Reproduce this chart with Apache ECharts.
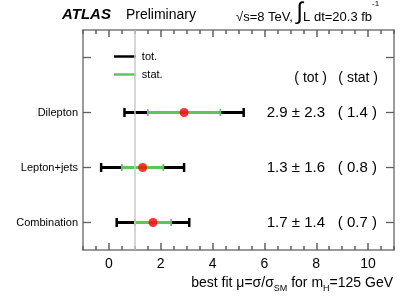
<!DOCTYPE html>
<html><head><meta charset="utf-8">
<script src="https://cdn.jsdelivr.net/npm/echarts@6/dist/echarts.min.js"></script>
<style>html,body{margin:0;padding:0;background:#fff}#c{width:415px;height:298px}</style>
</head><body><div id="c"></div>
<script>
var categories = ['Combination', 'Lepton+jets', 'Dilepton', ''];
var central = [1.7, 1.3, 2.9];
var totErr = [1.4, 1.6, 2.3];
var statErr = [0.7, 0.8, 1.4];
var xTicks = [0, 2, 4, 6, 8, 10];
var smLine = 1;

var FONT = '"Liberation Sans", Arial, Helvetica, sans-serif';
var chart = echarts.init(document.getElementById('c'), null, {renderer: 'canvas'});

function fmt(v){ return v.toFixed(1); }
var rightLabels = categories.map(function(c, i){
  if (i >= central.length) return '';
  return '{a|' + fmt(central[i]) + ' \u00b1 ' + fmt(totErr[i]) + '}{b|( ' + fmt(statErr[i]) + ' )}';
});

var totData = central.map(function(v, i){ return [v, totErr[i], i]; });
var statData = central.map(function(v, i){ return [v, statErr[i], i]; });
var ptData = central.map(function(v, i){ return [v, i]; });

function barRenderer(color, width, cap, capW){
  return function(params, api){
    var c = api.value(0), e = api.value(1), k = api.value(2);
    var p1 = api.coord([c - e, k]);
    var p2 = api.coord([c + e, k]);
    return {type: 'group', children: [
      {type: 'line', shape: {x1: p1[0], y1: p1[1], x2: p2[0], y2: p2[1]}, style: {stroke: color, lineWidth: width}},
      {type: 'line', shape: {x1: p1[0], y1: p1[1] - cap, x2: p1[0], y2: p1[1] + cap}, style: {stroke: color, lineWidth: capW}},
      {type: 'line', shape: {x1: p2[0], y1: p2[1] - cap, x2: p2[0], y2: p2[1] + cap}, style: {stroke: color, lineWidth: capW}}
    ]};
  };
}

var axisColor = '#7a7a7a';
var tickColor = '#606060';
function xAx(pos, major, showLine){
  var a = {type: 'value', min: -1, max: 11, interval: 0.5, position: pos,
    axisLine: {show: showLine, onZero: false, lineStyle: {color: axisColor, width: 1.5}},
    axisTick: {show: true, inside: true, length: major ? 7 : 4, lineStyle: {color: tickColor, width: 1.5}},
    minorTick: {show: false},
    splitLine: {show: false}, axisLabel: {show: false}};
  if (major) a.axisTick.customValues = xTicks;
  return a;
}
var labelAxis = {type: 'value', min: -1, max: 11, interval: 0.5, position: 'bottom',
  axisLine: {show: false, onZero: false}, axisTick: {show: false}, splitLine: {show: false},
  axisLabel: {show: true, customValues: xTicks, fontFamily: FONT, fontSize: 14, color: '#000', margin: 7,
    formatter: function(v){ return String(v); }}};
var xAxes = [xAx('bottom', false, true), xAx('bottom', true, false), xAx('top', false, true), xAx('top', true, false), labelAxis];

var option = {
  animation: false,
  textStyle: {fontFamily: FONT},
  grid: {left: 83, right: 21, top: 30, bottom: 48},
  title: [
    {left: 62, top: 6, padding: 0, text: '{b|ATLAS}   {n|Preliminary}',
     textStyle: {rich: {b: {fontFamily: FONT, fontSize: 15, fontWeight: 'bold', fontStyle: 'italic', color: '#000'},
                        n: {fontFamily: FONT, fontSize: 14, fontWeight: 'normal', color: '#000'}}}},
    {left: 236, top: 0, padding: 0, text: '{n|\u221as=8 TeV, }{i|\u222b}{n|L dt=20.3 fb}{s|-1}',
     textStyle: {rich: {n: {fontFamily: FONT, fontSize: 13, fontWeight: 'normal', color: '#000', verticalAlign: 'bottom'},
                        i: {fontFamily: FONT, fontSize: 24, fontWeight: 'normal', color: '#000', verticalAlign: 'bottom'},
                        s: {fontFamily: FONT, fontSize: 8, fontWeight: 'normal', color: '#000', verticalAlign: 'top', padding: [0,0,4,0]}}}}
  ],
  graphic: [
    {type: 'text', right: 88, top: 71, style: {text: '( tot )', font: '14px ' + FONT, fill: '#000'}},
    {type: 'text', right: 37, top: 71, style: {text: '( stat )', font: '14px ' + FONT, fill: '#000'}},
    {type: 'text', right: 22, top: 276, style: {
      rich: {n: {fontFamily: FONT, fontSize: 14, color: '#000'}, sub: {fontFamily: FONT, fontSize: 9, color: '#000', padding: [12,0,0,0]}},
      text: '{n|best fit \u03bc=\u03c3/\u03c3}{sub|SM}{n| for m}{sub|H}{n|=125 GeV}'}}
  ],
  legend: {
    orient: 'vertical', left: 109, top: 46, itemWidth: 26, itemHeight: 2.5, itemGap: 7,
    icon: 'path://M0,0H26V3H0Z',
    itemStyle: {borderWidth: 0},
    textStyle: {fontFamily: FONT, fontSize: 11, color: '#000', padding: [0,0,0,-1]},
    data: ['tot.', 'stat.'],
    selectedMode: false
  },
  xAxis: xAxes,
  yAxis: [
    {type: 'category', data: categories, position: 'left', boundaryGap: true,
     axisLine: {show: true, onZero: false, lineStyle: {color: axisColor, width: 1.5}},
     axisTick: {show: true, inside: true, alignWithLabel: true, length: 8, lineStyle: {color: tickColor, width: 1.3}},
     axisLabel: {fontFamily: FONT, fontSize: 11, color: '#000', margin: 5}},
    {type: 'category', data: categories, position: 'right', boundaryGap: true,
     axisLine: {show: true, onZero: false, lineStyle: {color: axisColor, width: 1.5}},
     axisTick: {show: true, inside: true, alignWithLabel: true, length: 8, lineStyle: {color: tickColor, width: 1.3}},
     axisLabel: {inside: true, margin: 17, color: '#000',
       formatter: function(v, i){ return rightLabels[i]; },
       rich: {a: {fontFamily: FONT, fontSize: 15, color: '#000'},
              b: {fontFamily: FONT, fontSize: 15, color: '#000', width: 52, align: 'right'}}}}
  ],
  series: [
    {name: 'tot.', type: 'custom', xAxisIndex: 0, yAxisIndex: 0, data: totData,
     dimensions: [{name: 'c', type: 'float'}, {name: 'e', type: 'float'}, {name: 'k', type: 'ordinal'}],
     encode: {x: 0, y: 2}, itemStyle: {color: '#000'}, z: 3,
     renderItem: barRenderer('#000', 3, 4.5, 2.5)},
    {name: 'stat.', type: 'custom', xAxisIndex: 0, yAxisIndex: 0, data: statData,
     encode: {x: 0, y: 2}, itemStyle: {color: '#5cc65a'}, z: 4,
     renderItem: barRenderer('#5cc65a', 3, 3.5, 1.8)},
    {name: 'pt', type: 'scatter', xAxisIndex: 0, yAxisIndex: 0, data: ptData,
     symbol: 'circle', symbolSize: 9, itemStyle: {color: '#ff0000'}, z: 5,
     markLine: {silent: true, symbol: 'none', label: {show: false},
       lineStyle: {color: '#c8c8c8', width: 1.5, type: 'solid'},
       data: [{xAxis: smLine}]}}
  ]
};
chart.setOption(option);
</script></body></html>
